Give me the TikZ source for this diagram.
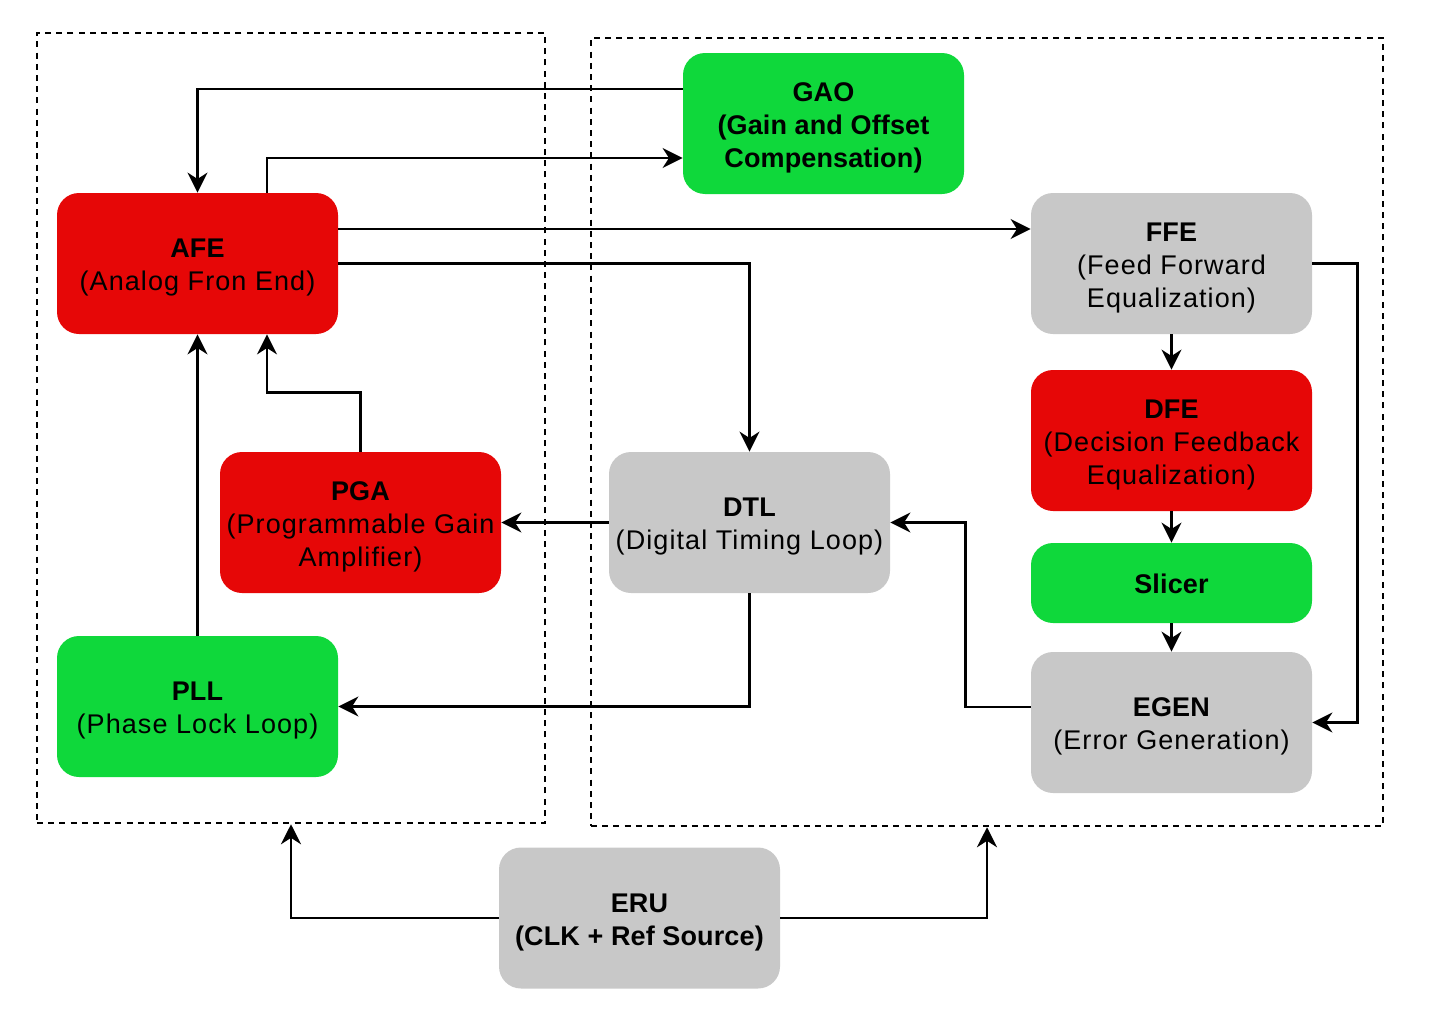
\documentclass[tikz,border=0pt]{standalone}
\usepackage{fontspec}
\setmainfont{Liberation Sans}[LetterSpace=4,BoldFeatures={LetterSpace=0.5}]
\usetikzlibrary{arrows.meta,calc}
\definecolor{cred}{HTML}{E60707}
\definecolor{cgreen}{HTML}{0FD83B}
\definecolor{cgray}{HTML}{C8C8C8}
\newcommand{\blktext}[1]{\raisebox{0pt}[\dimexpr\height+4pt\relax][\depth]{\begin{tabular}{@{}c@{}}#1\end{tabular}}}
\tikzset{
  blk/.style={rounded corners=11pt, minimum width=140.5pt, minimum height=70.5pt, inner sep=0pt, font=\fontsize{13.5}{16.5}\selectfont},
  redb/.style={blk, fill=cred},
  greenb/.style={blk, fill=cgreen},
  grayb/.style={blk, fill=cgray},
  dashbox/.style={draw, line width=1.25pt, dash pattern=on 3pt off 2.6pt, inner sep=0pt},
  arr/.style={draw, line width=1.2pt, -{Stealth[length=10pt,width=10pt,inset=3.2pt]}},
}
\begin{document}
\begin{tikzpicture}[x=0.5pt,y=-0.5pt]
\useasboundingbox (0,0) rectangle (1452,1017);
% dashed groups
\node[dashbox, minimum width=254pt, minimum height=395pt] (L) at (291,428) {};
\node[dashbox, minimum width=396pt, minimum height=394pt] (R) at (987,432) {};
% blocks
\node[greenb] (GAO) at (823.5,123.5) {\blktext{\textbf{GAO}\\\textbf{(Gain and Offset}\\\textbf{Compensation)}}};
\node[redb] (AFE) at (197.5,263.5) {\blktext{\textbf{AFE}\\(Analog Fron End)}};
\node[grayb] (FFE) at (1171.5,263.5) {\blktext{\textbf{FFE}\\(Feed Forward\\Equalization)}};
\node[redb] (DFE) at (1171.5,440.5) {\blktext{\textbf{DFE}\\(Decision Feedback\\Equalization)}};
\node[greenb, minimum height=40pt] (SL) at (1171.5,583) {\blktext{\textbf{Slicer}}};
\node[grayb] (EGEN) at (1171.5,722.5) {\blktext{\textbf{EGEN}\\(Error Generation)}};
\node[grayb] (DTL) at (749.5,522.5) {\blktext{\textbf{DTL}\\(Digital Timing Loop)}};
\node[redb] (PGA) at (360.5,522.5) {\blktext{\textbf{PGA}\\(Programmable Gain\\Amplifier)}};
\node[greenb] (PLL) at (197.5,706.5) {\blktext{\textbf{PLL}\\(Phase Lock Loop)}};
\node[grayb] (ERU) at (639.5,918) {\blktext{\textbf{ERU}\\\textbf{(CLK + Ref Source)}}};
% connectors
\draw[arr] ([yshift=17.25pt]GAO.west) -| (AFE.north);
\draw[arr] ([xshift=34.75pt]AFE.north) |- ([yshift=-17.25pt]GAO.west);
\draw[arr] ([yshift=17.25pt]AFE.east) -- ([yshift=17.25pt]FFE.west);
\draw[arr] (AFE.east) -| (DTL.north);
\draw[arr] (FFE.east) -- ++(22.5pt,0) |- (EGEN.east);
\draw[arr] (FFE.south) -- (DFE.north);
\draw[arr] (DFE.south) -- (SL.north);
\draw[arr] (SL.south) -- (EGEN.north);
\draw[arr] ([yshift=7.75pt]EGEN.west) -- ++(-32.5pt,0) |- (DTL.east);
\draw[arr] (DTL.west) -- (PGA.east);
\draw[arr] (DTL.south) |- (PLL.east);
\draw[arr] (PGA.north) -- ++(0,29.5pt) -| ([xshift=34.75pt]AFE.south);
\draw[arr] (PLL.north) -- (AFE.south);
\draw[arr] (ERU.west) -| (L.south);
\draw[arr] (ERU.east) -| (R.south);
\end{tikzpicture}
\end{document}
